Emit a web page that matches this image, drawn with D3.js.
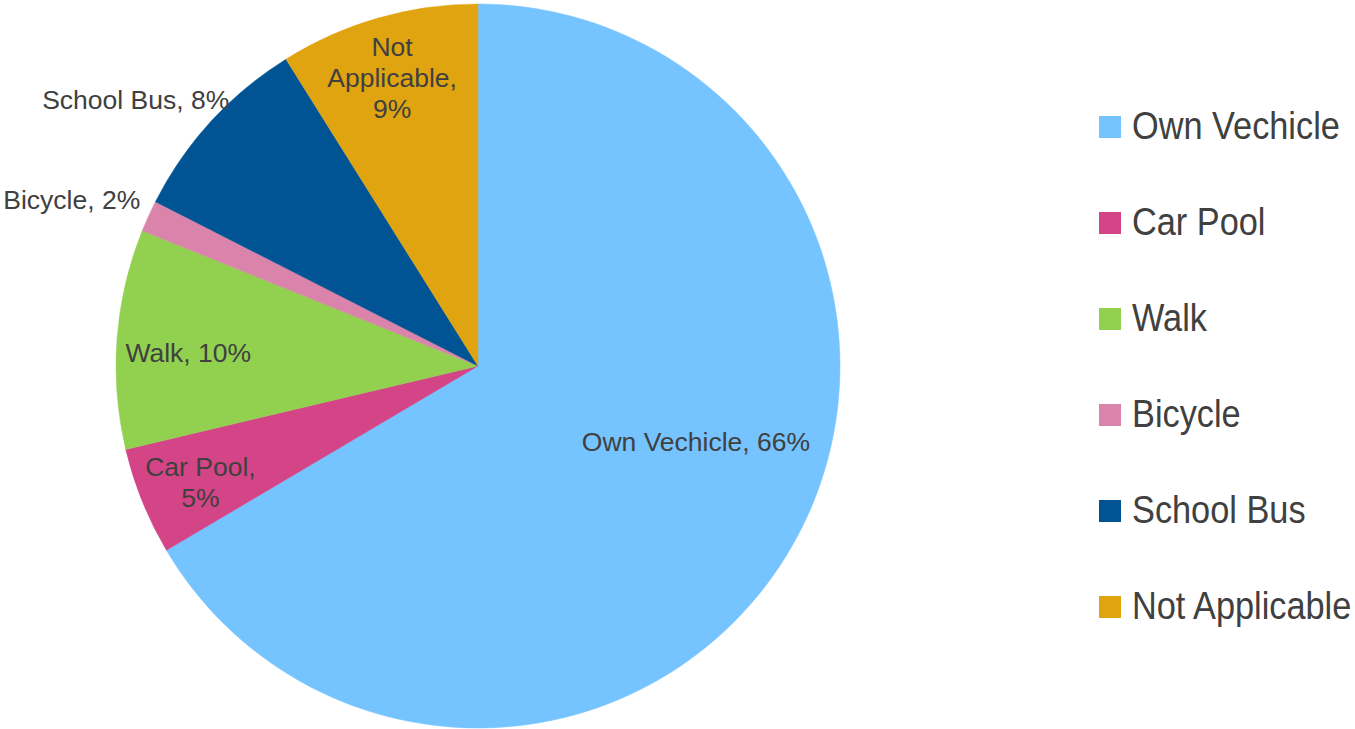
<!DOCTYPE html>
<html>
<head>
<meta charset="utf-8">
<script src="https://cdn.jsdelivr.net/npm/d3@7"></script>
<style>
	body { margin: 0; background: #fff; }
	svg text { font-family: "Liberation Sans", Arial, sans-serif; fill: #404040; }
</style>
</head>
<body>
<div id="viz"></div>
<script>
// data (labels show rounded percentages)
var categories = ["Own Vechicle", "Car Pool", "Walk", "Bicycle", "School Bus", "Not Applicable"];
var shares = [66.5, 4.8, 9.8, 1.4, 8.6, 8.9];
var colors = ["#75C3FF", "#D34587", "#92D050", "#DA83AB", "#005493", "#E0A410"];

// data label lines for each slice
var labelLines = [
	["Own Vechicle, 66%"],
	["Car Pool,", "5%"],
	["Walk, 10%"],
	["Bicycle, 2%"],
	["School Bus, 8%"],
	["Not", "Applicable,", "9%"]
];

var WIDTH = 1355;
var HEIGHT = 729;
var CX = 478;
var CY = 366;
var RADIUS = 362;
var LINE_H = 31;

var svg = d3.select("#viz").append("svg")
	.attr("width", WIDTH)
	.attr("height", HEIGHT);

var items = categories.map(function(c, i) {
	return { name: c, value: shares[i], color: colors[i], lines: labelLines[i] };
});

var pie = d3.pie()
	.sort(null)
	.value(function(d) { return d.value; });

var arc = d3.arc()
	.innerRadius(0)
	.outerRadius(RADIUS);

var arcs = pie(items);

var g = svg.append("g")
	.attr("transform", "translate(" + CX + "," + CY + ")");

g.selectAll("path")
	.data(arcs)
	.enter().append("path")
	.attr("d", arc)
	.attr("fill", function(d) { return d.data.color; })
	.attr("stroke", function(d) { return d.data.color; })
	.attr("stroke-width", 0.5);

// label anchor radius as a fraction of the pie radius, then a nudge
// so it lands where excel put it; small slices go outside
var labelRadius = [0.62, 0.80, 0.80, 1.13, 1.02, 0.86];
var labelShift = [[23, -35], [-9, 8], [-1, 9], [-34, 3], [-70, -17], [0, 11]];

function eachLine(list, fn) {
	for (var i = 0; i < list.length; i++) fn(i, list[i]);
}

g.selectAll("text.lbl")
	.data(arcs)
	.enter().append("text")
	.attr("class", "lbl")
	.attr("text-anchor", "middle")
	.attr("font-size", 26.5)
	.each(function(d, i) {
		var a = (d.startAngle + d.endAngle) / 2;
		var r = RADIUS * labelRadius[i];
		var x = Math.sin(a) * r + labelShift[i][0];
		var y = -Math.cos(a) * r + labelShift[i][1];
		var n = d.data.lines.length;
		var t = d3.select(this);
		eachLine(d.data.lines, function(k, line) {
			t.append("tspan")
				.attr("x", x)
				.attr("y", y + (k - (n - 1) / 2) * LINE_H)
				.attr("dy", "0.35em")
				.text(line);
		});
	});

// legend
var legend = svg.append("g")
	.attr("transform", "translate(1099,127)");

var row = legend.selectAll("g")
	.data(items)
	.enter().append("g")
	.attr("transform", function(d, i) { return "translate(0," + (i * 96) + ")"; });

row.append("rect")
	.attr("x", 0)
	.attr("y", -11)
	.attr("width", 22)
	.attr("height", 22)
	.attr("fill", function(d) { return d.color; });

// legend font looks horizontally squeezed in the original
row.append("text")
	.attr("transform", "translate(33,0) scale(0.88,1)")
	.attr("dy", "0.31em")
	.attr("font-size", 39)
	.text(function(d) { return d.name; });
</script>
</body>
</html>
